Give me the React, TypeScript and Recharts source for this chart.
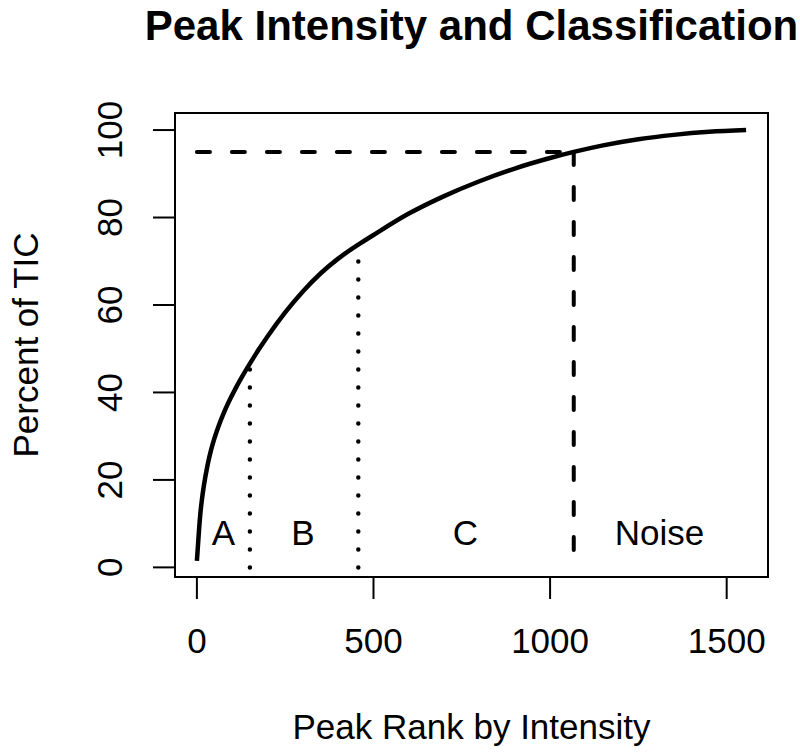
import React from "react";
import {
  ComposedChart,
  Line,
  XAxis,
  YAxis,
  ReferenceLine,
  ReferenceArea,
  Scatter,
} from "recharts";

const FONT = '"Liberation Sans", Arial, Helvetica, sans-serif';

// cumulative % of TIC vs. peak rank
const rankX = [
  0, 3, 6, 10, 15, 20, 30, 40, 50, 60, 75, 90, 110, 130, 150, 175, 200, 250,
  300, 350, 400, 457, 500, 600, 700, 800, 900, 1000, 1067, 1150, 1250, 1350,
  1450, 1555,
];
const ticPct = [
  1.5, 5, 8.5, 12.5, 16, 18.8, 23.3, 26.8, 29.6, 32, 35.1, 37.8, 41, 43.9,
  46.6, 49.8, 52.8, 58.3, 63.1, 67.2, 70.6, 73.8, 76, 80.9, 84.9, 88.3, 91.2,
  93.6, 95, 96.5, 97.9, 98.9, 99.6, 100,
];

const xTicks = [0, 500, 1000, 1500];
const yTicks = [0, 20, 40, 60, 80, 100];

// class boundaries (dotted) and noise cutoff (dashed)
const boundaryRank = [150, 457];
const boundaryPct = [46.6, 73.8];
const noiseRank = 1067;
const noisePct = 95;

const classNames = ["A", "B", "C", "Noise"];
const classRank = [75, 300, 760, 1310];
const classPct = [8, 8, 8, 8];

const xDomain = [-62, 1617];
const yDomain = [-2.2, 103.9];

const curveData = rankX.map((r, i) => ({ rank: r, pct: ticPct[i] }));
const classData = classNames.map((name, i) => ({
  rank: classRank[i],
  pct: classPct[i],
  name,
}));

function XTick({ x, y, payload }: any) {
  return (
    <text x={x} y={y} dy="0.72em" textAnchor="middle" fontSize={35} fontFamily={FONT} fill="#000">
      {payload.value}
    </text>
  );
}

function YTick({ x, y, payload }: any) {
  return (
    <text
      x={x}
      y={y}
      transform={`rotate(-90 ${x} ${y})`}
      textAnchor="middle"
      fontSize={35}
      fontFamily={FONT}
      fill="#000"
    >
      {payload.value}
    </text>
  );
}

function ClassLabel({ cx, cy, payload }: any) {
  return (
    <text x={cx} y={cy} dy="0.36em" textAnchor="middle" fontSize={35} fontFamily={FONT} fill="#000">
      {payload.name}
    </text>
  );
}

function XLabel({ viewBox }: any) {
  const { x, y, width, height } = viewBox;
  return (
    <text x={x + width / 2} y={y + height + 102} textAnchor="middle" fontSize={35} fontFamily={FONT} fill="#000">
      Peak Rank by Intensity
    </text>
  );
}

function YLabel({ viewBox }: any) {
  const { x, y, height } = viewBox;
  const lx = x - 77;
  const ly = y + height / 2;
  return (
    <text
      x={lx}
      y={ly}
      transform={`rotate(-90 ${lx} ${ly})`}
      textAnchor="middle"
      fontSize={35}
      fontFamily={FONT}
      fill="#000"
    >
      Percent of TIC
    </text>
  );
}

export default function App() {
  return (
    <div style={{ position: "absolute", left: 0, top: 0, width: 800, height: 753, background: "#fff" }}>
      <ComposedChart
        width={800}
        height={753}
        data={curveData}
        margin={{ top: 113, right: 32, bottom: 116, left: 115 }}
      >
        <XAxis
          dataKey="rank"
          type="number"
          domain={xDomain}
          ticks={xTicks}
          allowDataOverflow
          axisLine={false}
          tickSize={22}
          tickMargin={29}
          tickLine={{ stroke: "#000", strokeWidth: 2 }}
          tick={<XTick />}
          height={60}
          label={{ content: <XLabel /> }}
        />
        <YAxis
          type="number"
          domain={yDomain}
          ticks={yTicks}
          allowDataOverflow
          axisLine={false}
          tickSize={22}
          tickMargin={31}
          tickLine={{ stroke: "#000", strokeWidth: 2 }}
          tick={<YTick />}
          width={60}
          label={{ content: <YLabel /> }}
        />
        <ReferenceArea
          x1={xDomain[0]}
          x2={xDomain[1]}
          y1={yDomain[0]}
          y2={yDomain[1]}
          fill="none"
          fillOpacity={0}
          stroke="#000"
          strokeWidth={2}
        />
        {boundaryRank.map((r, i) => (
          <ReferenceLine
            key={r}
            segment={[
              { x: r, y: 0 },
              { x: r, y: boundaryPct[i] },
            ]}
            stroke="#000"
            strokeWidth={4.5}
            strokeDasharray="0 18"
            strokeLinecap="round"
          />
        ))}
        <ReferenceLine
          segment={[
            { x: 0, y: noisePct },
            { x: noiseRank, y: noisePct },
          ]}
          stroke="#000"
          strokeWidth={4}
          strokeDasharray="13 22"
          strokeLinecap="round"
        />
        <ReferenceLine
          segment={[
            { x: noiseRank, y: noisePct },
            { x: noiseRank, y: 0 },
          ]}
          stroke="#000"
          strokeWidth={4}
          strokeDasharray="13 22"
          strokeLinecap="round"
        />
        <Line
          dataKey="pct"
          type="monotone"
          stroke="#000"
          strokeWidth={4.5}
          dot={false}
          isAnimationActive={false}
        />
        <Scatter data={classData} dataKey="pct" shape={<ClassLabel />} isAnimationActive={false} />
      </ComposedChart>
      <svg
        width={800}
        height={60}
        style={{ position: "absolute", left: 0, top: 0, pointerEvents: "none" }}
      >
        <text x={471.5} y={40} textAnchor="middle" fontSize={42} fontWeight="bold" fontFamily={FONT} fill="#000">
          Peak Intensity and Classification
        </text>
      </svg>
    </div>
  );
}
